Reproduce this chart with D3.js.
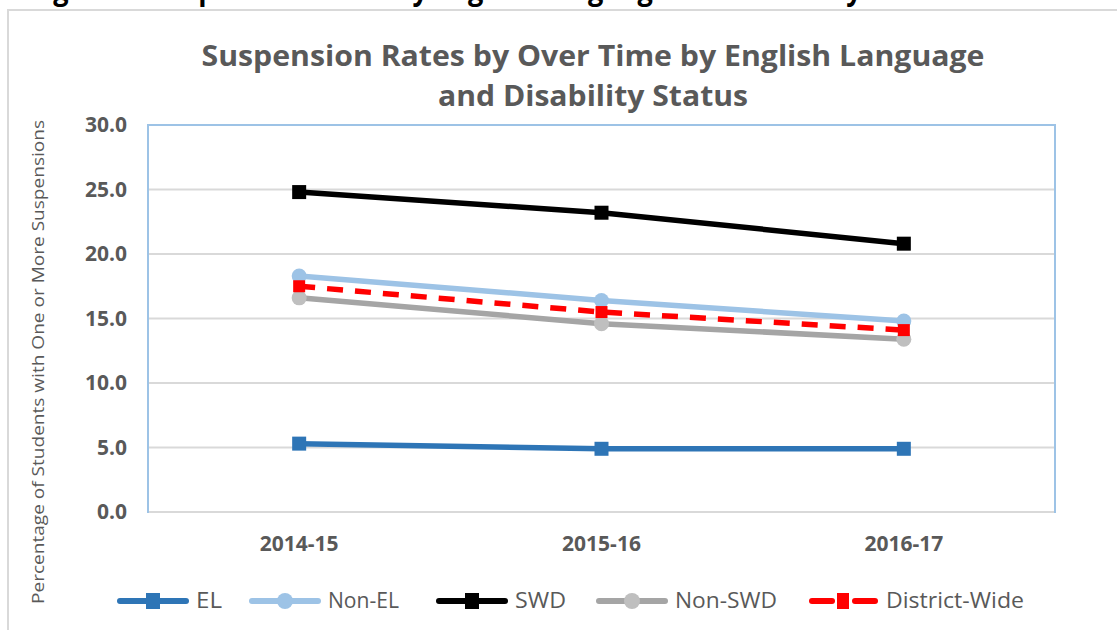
<!DOCTYPE html>
<html>
<head>
<meta charset="utf-8">
<script src="https://cdn.jsdelivr.net/npm/d3@7"></script>
<style>
  body { margin: 0; background: #fff; }
  svg { display: block; font-family: "Open Sans", "DejaVu Sans", sans-serif; }
</style>
</head>
<body>
<svg id="chart"></svg>
<script>
(function () {
var width = 1117, height = 630
var svg = d3.select('#chart').attr('width', width).attr('height', height)

// data
var years = ['2014-15', '2015-16', '2016-17']
var el = [5.3, 4.9, 4.9]
var nonEl = [18.3, 16.4, 14.8]
var swd = [24.8, 23.2, 20.8]
var nonSwd = [16.6, 14.6, 13.4]
var district = [17.5, 15.5, 14.1]
var yTicks = [0, 5, 10, 15, 20, 25, 30]

var series = [
    {name: 'EL', values: el, color: '#2e75b6', marker: 'square', markColor: '#2e75b6'},
    {name: 'Non-EL', values: nonEl, color: '#9dc3e6', marker: 'circle', markColor: '#9dc3e6'},
    {name: 'SWD', values: swd, color: '#000000', marker: 'square', markColor: '#000000'},
    {name: 'Non-SWD', values: nonSwd, color: '#a5a5a5', marker: 'circle', markColor: '#bfbfbf'},
    {name: 'District-Wide', values: district, color: '#ff0000', marker: 'square', markColor: '#ff0000', dash: '16,12'},
]

var grey = '#595959'
var plot = {left: 148, top: 125, right: 1055, bottom: 512}

// cut-off caption above the chart frame (only descenders visible)
svg.append('text')
    .attr('x', 30).attr('y', 0)
    .attr('textLength', 925).attr('lengthAdjust', 'spacingAndGlyphs')
    .style('font-size', '30px').style('font-weight', 'bold').attr('fill', '#000')
    .text('Figure 5. Suspension Rates by English Language and Disability Status')

// outer chart frame
svg.append('rect')
    .attr('x', 8).attr('y', 10).attr('width', 1130).attr('height', 640)
    .attr('fill', '#fff').attr('stroke', '#d9d9d9').attr('stroke-width', 2)

// title
var title = svg.append('text').attr('text-anchor', 'middle').attr('fill', grey)
    .style('font-size', '28px').style('font-weight', 'bold')
title.append('tspan').attr('x', 593).attr('y', 66)
    .attr('textLength', 783).attr('lengthAdjust', 'spacingAndGlyphs')
    .text('Suspension Rates by Over Time by English Language')
title.append('tspan').attr('x', 593).attr('y', 106)
    .attr('textLength', 310).attr('lengthAdjust', 'spacingAndGlyphs')
    .text('and Disability Status')

var x = d3.scaleBand().domain(years).range([plot.left, plot.right])
var y = d3.scaleLinear().domain([0, 30]).range([plot.bottom, plot.top])

// plot border
svg.append('rect')
    .attr('x', plot.left).attr('y', plot.top)
    .attr('width', plot.right - plot.left).attr('height', plot.bottom - plot.top)
    .attr('fill', 'none').attr('stroke', '#9dc3e6').attr('stroke-width', 2)

// gridlines
svg.append('g').selectAll('line').data(yTicks).join('line')
    .attr('x1', plot.left + 1).attr('x2', plot.right - 1)
    .attr('y1', d => y(d)).attr('y2', d => y(d))
    .attr('stroke', d => d === 30 ? 'none' : '#d9d9d9').attr('stroke-width', 2)

// y axis
var yAxis = svg.append('g')
    .attr('transform', 'translate(' + (plot.left - 21) + ',0)')
    .call(d3.axisLeft(y).tickValues(yTicks).tickFormat(d3.format('.1f')).tickSize(0).tickPadding(0))
yAxis.select('.domain').remove()
yAxis.selectAll('text').attr('fill', grey)
    .style('font-size', '21px').style('font-weight', 'bold').style('font-family', '"Open Sans", sans-serif')

// x axis
var xAxis = svg.append('g')
    .attr('transform', 'translate(0,' + (plot.bottom + 24) + ')')
    .call(d3.axisBottom(x).tickSize(0).tickPadding(0))
xAxis.select('.domain').remove()
xAxis.selectAll('text').attr('fill', grey)
    .style('font-size', '21px').style('font-weight', 'bold').style('font-family', '"Open Sans", sans-serif')

// y axis title
svg.append('text')
    .attr('transform', 'translate(44,362) rotate(-90)')
    .attr('text-anchor', 'middle').attr('fill', grey)
    .attr('textLength', 484).attr('lengthAdjust', 'spacingAndGlyphs')
    .style('font-size', '17px')
    .text('Percentage of Students with One or More Suspensions')

// lines
var line = d3.line()
    .x((d, i) => x(years[i]) + x.bandwidth() / 2)
    .y(d => y(d))

var drawOrder = [0, 1, 3, 2, 4]
drawOrder.forEach(function (k) {
    var s = series[k]
    svg.append('path').datum(s.values)
        .attr('d', line)
        .attr('fill', 'none').attr('stroke', s.color).attr('stroke-width', 5.5)
        .attr('stroke-dasharray', s.dash || null)
    var g = svg.append('g')
    s.values.forEach(function (v, i) {
        var cx = x(years[i]) + x.bandwidth() / 2, cy = y(v)
        if (s.marker === 'circle') {
            g.append('circle').attr('cx', cx).attr('cy', cy).attr('r', 7.5).attr('fill', s.markColor)
        } else {
            var sz = k === 4 ? 12 : 14
            g.append('rect').attr('x', cx - sz / 2).attr('y', cy - sz / 2)
                .attr('width', sz).attr('height', sz).attr('fill', s.markColor)
        }
    })
})

// legend
var legendX = [118, 250, 437, 597, 810]
var legendTextW = [26, 71, 51, 102, 138]
var legY = 601
series.forEach(function (s, i) {
    var g = svg.append('g').attr('transform', 'translate(' + legendX[i] + ',' + legY + ')')
    if (s.dash) {
        g.append('line').attr('x1', 2).attr('x2', 22).attr('stroke', s.color)
            .attr('stroke-width', 6).attr('stroke-linecap', 'round')
        g.append('line').attr('x1', 45).attr('x2', 65).attr('stroke', s.color)
            .attr('stroke-width', 6).attr('stroke-linecap', 'round')
        g.append('rect').attr('x', 27).attr('y', -8).attr('width', 12).attr('height', 16).attr('fill', s.markColor)
    } else {
        g.append('line').attr('x1', 2).attr('x2', 68).attr('stroke', s.color)
            .attr('stroke-width', 6).attr('stroke-linecap', 'round')
        if (s.marker === 'circle') {
            g.append('circle').attr('cx', 35).attr('r', 8).attr('fill', s.markColor)
        } else {
            g.append('rect').attr('x', 28).attr('y', -8).attr('width', 14).attr('height', 16).attr('fill', s.markColor)
        }
    }
    g.append('text').attr('x', s.dash ? 76 : 78).attr('dy', '0.35em')
        .attr('textLength', legendTextW[i]).attr('lengthAdjust', 'spacingAndGlyphs')
        .attr('fill', grey).style('font-size', '21px')
        .text(s.name)
})
})();
</script>
</body>
</html>
